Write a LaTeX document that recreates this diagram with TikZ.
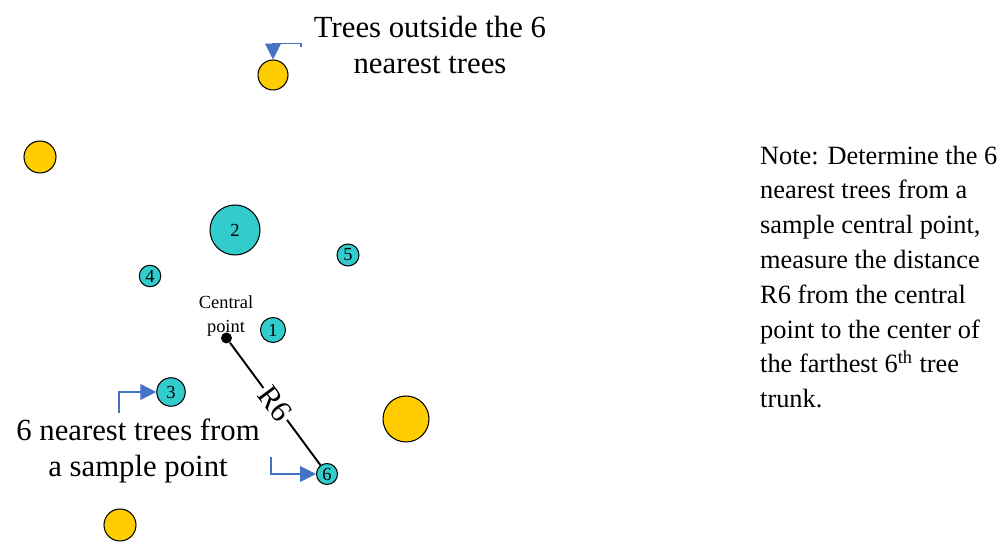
\documentclass[tikz,border=0pt]{standalone}
\usepackage{fontspec}
\setmainfont{Liberation Serif}
\usetikzlibrary{positioning,arrows.meta}
\definecolor{treeteal}{RGB}{51,204,204}
\definecolor{treegold}{RGB}{255,204,0}
\definecolor{calloutblue}{RGB}{68,114,196}

\begin{document}
\begin{tikzpicture}[x=0.02cm,y=-0.02cm,
	near tree/.style={circle,draw=black,line width=0.6pt,fill=treeteal,inner sep=0pt,minimum size=#1,font=\fontsize{10.5}{10.5}\selectfont},
	far tree/.style={circle,draw=black,line width=0.6pt,fill=treegold,inner sep=0pt,minimum size=#1},
	callout/.style={draw=calloutblue,line width=0.6pt,-{Triangle[length=9pt,width=9pt]}},
	big text/.style={align=center,font=\fontsize{17.5}{20.5}\selectfont},
	]
	\useasboundingbox (0,0) rectangle (1008,543);
	%trees outside
	\node[far tree=0.6cm] (top) at (273,75) {};
	\node[far tree=0.64cm] (left) at (40,157) {};
	\node[far tree=0.64cm] (bottom) at (120,525) {};
	\node[far tree=0.92cm] (big) at (406,419) {};
	%nearest trees
	\node[near tree=0.5cm] (t1) at (273,330) {1};
	\node[near tree=1.0cm] (t2) at (235,230) {2};
	\node[near tree=0.57cm] (t3) at (171,392) {3};
	\node[near tree=0.43cm] (t4) at (150,276) {4};
	\node[near tree=0.44cm] (t5) at (348,255) {5};
	\node[near tree=0.42cm] (t6) at (327,474) {6};
	%central point
	\node[circle,fill=black,inner sep=0pt,minimum size=0.22cm] (c) at (226.5,338) {};
	\node[align=center,font=\fontsize{10.5}{13.6}\selectfont] (ctext) at (226,316) {Central\\point};
	\draw[line width=1.1pt] (c) -- node[sloped,fill=white,inner sep=1pt,font=\fontsize{17.5}{17.5}\selectfont] (r6) {R6} (t6);
	%labels
	\node[big text] (outside) at (430,45) {Trees outside the 6\\nearest trees};
	\node[big text] (nearest) at (138,451) {6 nearest trees from\\a sample point};
	\node[anchor=west,align=left,font=\fontsize{15}{19.8}\selectfont] (note) at (754,277) {Note: Determine the 6\\nearest trees from a\\sample central point,\\measure the distance\\R6 from the central\\point to the center of\\the farthest 6\textsuperscript{th} tree\\trunk.};
	%callouts
	\coordinate (a1) at (301,47.5);
	\coordinate (a3) at (119,413);
	\coordinate (a6) at (271,457);
	\draw[callout] (a1) -- ++(0,-4) -| (top);
	\draw[callout] (a3) |- (t3);
	\draw[callout] (a6) |- (t6);
\end{tikzpicture}
\end{document}
